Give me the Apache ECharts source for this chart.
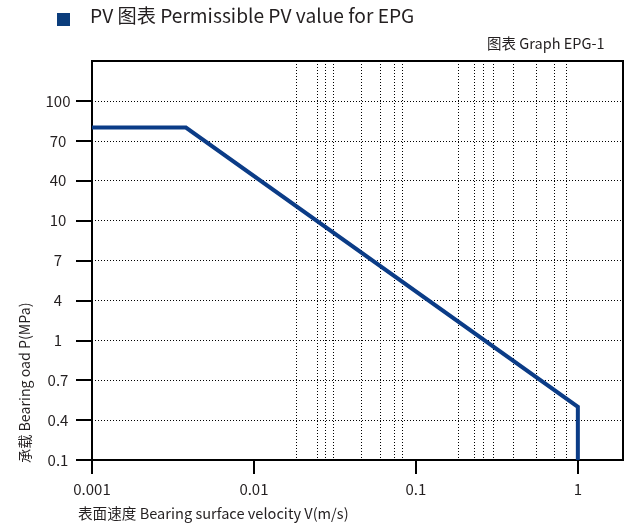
<!DOCTYPE html>
<html>
<head>
<meta charset="utf-8">
<script src="https://cdn.jsdelivr.net/npm/echarts@6/dist/echarts.min.js"></script>
<style>
  html, body { margin: 0; padding: 0; background: #fff; }
  #chart { width: 633px; height: 525px; }
</style>
</head>
<body>
<div id="chart"></div>
<script>
// Permissible PV curve for EPG bearings
const velocity = [0.001, 0.0038, 1, 1];          // V (m/s)
const load = [80, 80, 0.5, 0.1];                  // P (MPa)
const yTickLabels = ['0.1', '0.4', '0.7', '1', '4', '7', '10', '40', '70', '100'];
const xTickValues = [0.001, 0.01, 0.1, 1];
const gridVelocities = [0.0182, 0.0244, 0.0274, 0.0307, 0.0461, 0.0604, 0.073, 0.0822,
                        0.182, 0.228, 0.26, 0.30, 0.40, 0.548, 0.71, 0.85];

const FONT = '"Noto Sans CJK SC", "Noto Sans", sans-serif';
const TEXT = '#231f20';
const BLUE = '#0b3c87';

// Load axis: each decade spans three equal steps (1, 4, 7, 10 ...), linear inside a decade
function loadToPos(p) {
  const k = Math.floor(Math.log10(p) + 1e-9);
  return 3 * (k + 1) + (p / Math.pow(10, k) - 1) / 3;
}

const curve = velocity.map((v, i) => [v, loadToPos(load[i])]);
const yTickPos = yTickLabels.map((_, i) => i);

const chart = echarts.init(document.getElementById('chart'), null, { renderer: 'canvas' });
chart.setOption({
  animation: false,
  backgroundColor: '#fff',
  textStyle: { fontFamily: FONT },
  grid: {
    left: 92, right: 10, top: 61, bottom: 65,
    show: true, borderColor: '#000', borderWidth: 2, backgroundColor: 'transparent'
  },
  graphic: [
    { type: 'rect', left: 57, top: 13, shape: { width: 13, height: 13 }, style: { fill: '#0b3d7c' } },
    { type: 'text', left: 90, top: 6, style: { text: 'PV 图表 Permissible PV value for EPG', font: '19.2px ' + FONT, fill: TEXT } },
    { type: 'text', left: 487, top: 36, style: { text: '图表 Graph EPG-1', font: '14.5px ' + FONT, fill: TEXT } },
    { type: 'text', left: 78, top: 506, style: { text: '表面速度 Bearing surface velocity V(m/s)', font: '14.6px ' + FONT, fill: TEXT } },
    { type: 'text', x: 25, y: 463, rotation: Math.PI / 2,
      style: { text: '承载 Bearing oad P(MPa)', font: '14.2px ' + FONT, fill: TEXT, align: 'left', verticalAlign: 'middle' } }
  ],
  xAxis: {
    type: 'log', logBase: 10, min: 0.001, max: 1.9,
    axisLine: { lineStyle: { color: '#000', width: 2 } },
    axisTick: { show: true, length: 14, customValues: xTickValues, lineStyle: { color: '#000', width: 2 } },
    axisLabel: {
      customValues: xTickValues, margin: 22, color: TEXT, fontSize: 15, fontFamily: FONT,
      formatter: v => String(+v.toPrecision(6))
    },
    splitLine: { show: false }
  },
  yAxis: {
    type: 'value', min: 0, max: 10, interval: 1,
    axisLine: { show: true, lineStyle: { color: '#000', width: 2 } },
    axisTick: { show: true, length: 16, customValues: yTickPos, lineStyle: { color: '#000', width: 2 } },
    axisLabel: {
      customValues: yTickPos, margin: 34, align: 'center', color: TEXT, fontSize: 15, fontFamily: FONT,
      formatter: v => yTickLabels[Math.round(v)] || ''
    },
    splitLine: { show: true, lineStyle: { color: '#000', width: 1, type: [1, 2] } }
  },
  series: [
    {
      // dotted vertical guides at the velocity grid values
      type: 'custom',
      silent: true,
      z: 1,
      data: gridVelocities.map(v => [v, 0]),
      encode: { x: 0, y: 1 },
      renderItem: (params, api) => {
        const cs = params.coordSys;
        const x = Math.round(api.coord([api.value(0), 0])[0]) + 0.5;
        return {
          type: 'line',
          shape: { x1: x, y1: cs.y, x2: x, y2: cs.y + cs.height },
          style: { stroke: '#000', lineWidth: 1, lineDash: [1, 2] }
        };
      }
    },
    {
      type: 'line',
      data: curve,
      symbol: 'none',
      lineStyle: { color: BLUE, width: 4, join: 'miter' },
      z: 5
    }
  ]
});
</script>
</body>
</html>
